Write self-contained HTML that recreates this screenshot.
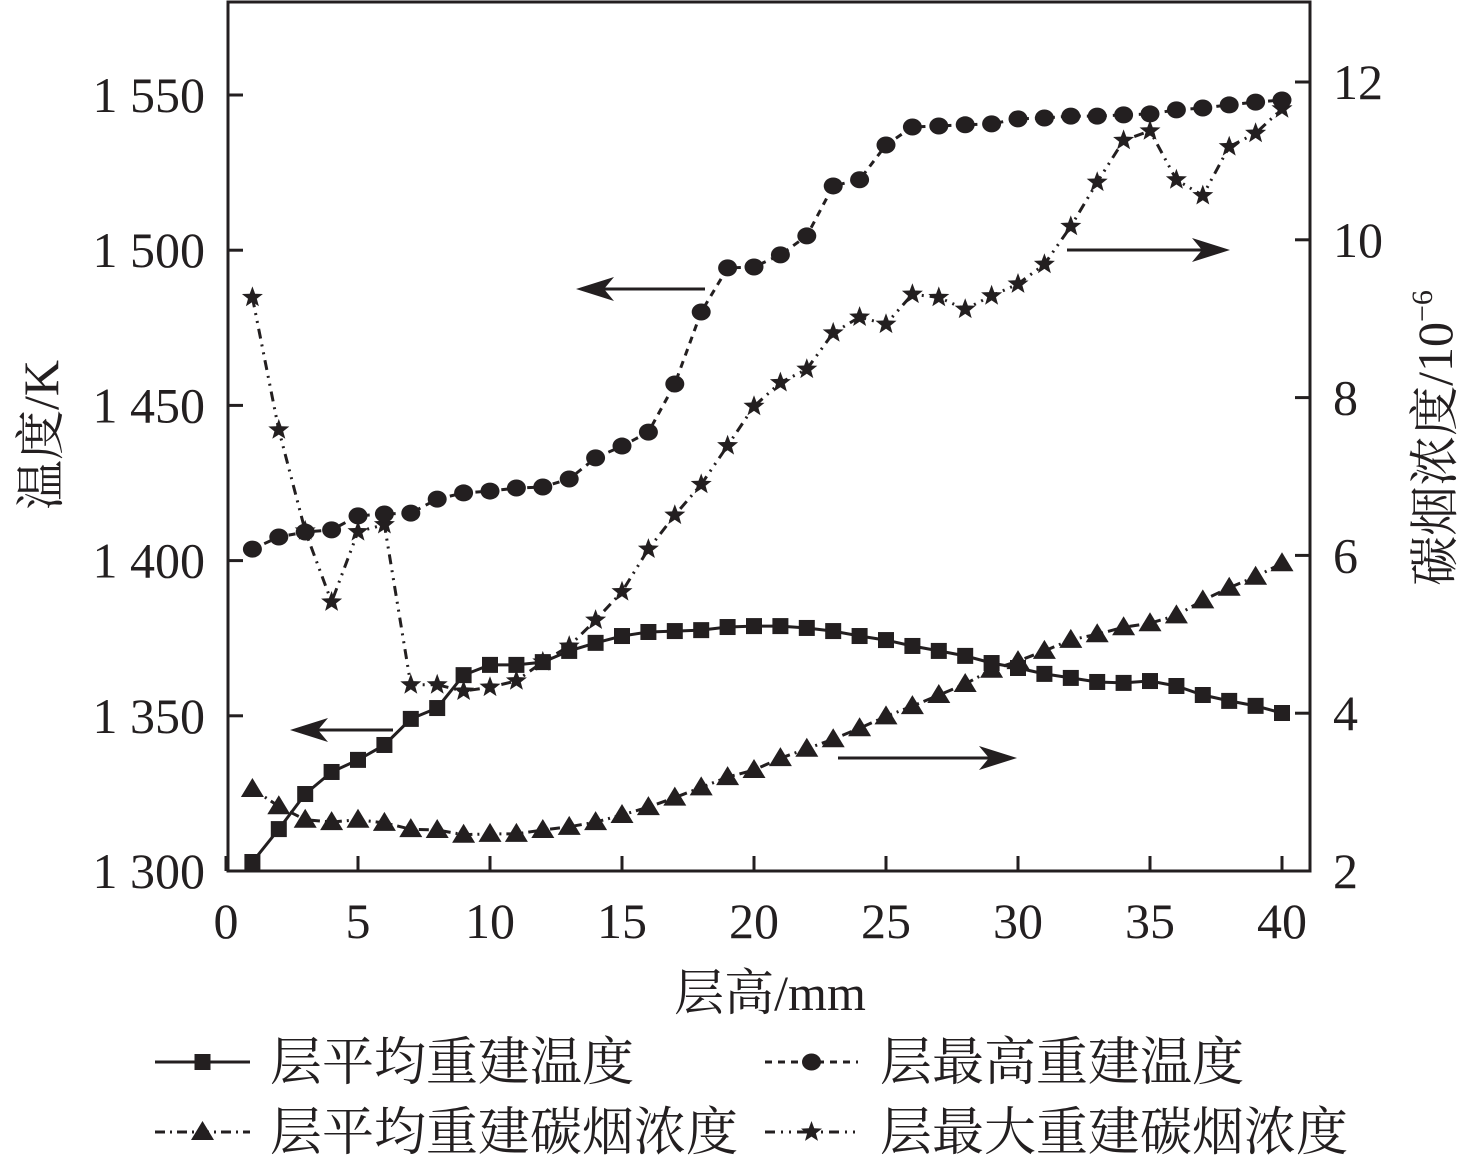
<!DOCTYPE html>
<html><head><meta charset="utf-8"><style>
html,body{margin:0;padding:0;background:#fff}
svg{display:block}
text{font-family:"Liberation Serif","Noto Serif CJK SC",serif;fill:#231f20}
</style></head><body>
<svg id="chart" width="1476" height="1165" viewBox="0 0 1476 1165" xmlns="http://www.w3.org/2000/svg">
<g id="axes"></g>
<g id="series"></g>
<g id="legend"></g>
</svg>
<script>
const layers = [1,2,3,4,5,6,7,8,9,10,11,12,13,14,15,16,17,18,19,20,21,22,23,24,25,26,27,28,29,30,31,32,33,34,35,36,37,38,39,40];
const avgTemp = [1302.9,1313.5,1324.8,1331.9,1335.8,1340.6,1349,1352.5,1363.1,1366.4,1366.4,1367.3,1370.9,1373.5,1375.7,1377,1377.3,1377.6,1378.6,1378.9,1378.9,1378.3,1377.3,1375.7,1374.4,1372.5,1370.9,1369.3,1367,1365.4,1363.5,1362.2,1360.9,1360.6,1361.2,1359.6,1356.7,1354.8,1353.2,1350.9];
const maxTemp = [1403.7,1407.6,1409.2,1409.9,1414.4,1415,1415.3,1419.8,1421.8,1422.4,1423.4,1423.7,1426.3,1433.1,1436.9,1441.4,1456.9,1480.1,1494.3,1494.6,1498.5,1504.6,1520.7,1522.7,1533.9,1539.7,1540,1540.4,1540.7,1542.3,1542.6,1543.2,1543.2,1543.6,1543.9,1545.2,1545.8,1546.8,1547.7,1548.4];
const avgSoot = [3.04,2.82,2.65,2.62,2.65,2.61,2.53,2.52,2.46,2.47,2.47,2.52,2.56,2.62,2.71,2.81,2.93,3.06,3.19,3.28,3.43,3.55,3.67,3.81,3.96,4.09,4.23,4.37,4.55,4.66,4.79,4.93,5.0,5.09,5.14,5.24,5.43,5.59,5.73,5.9];
const maxSoot = [9.27,7.59,6.31,5.41,6.30,6.39,4.36,4.36,4.28,4.33,4.41,4.65,4.85,5.18,5.54,6.08,6.51,6.90,7.39,7.89,8.19,8.36,8.82,9.02,8.93,9.31,9.27,9.12,9.29,9.44,9.69,10.17,10.73,11.26,11.38,10.76,10.56,11.18,11.35,11.66];
const xTicks = [0,5,10,15,20,25,30,35,40];
const leftTicks = [1300,1350,1400,1450,1500,1550];
const leftTickLabels = ["1 300","1 350","1 400","1 450","1 500","1 550"];
const rightTicks = [2,4,6,8,10,12];

const NS="http://www.w3.org/2000/svg";
const L=228,R=1310,T=2,B=871;
const xs=v=>226+v*26.4;
const yl=v=>871-(v-1300)*3.104;
const yr=v=>871-(v-2)*78.9;
function mk(tag,attrs,parent){const e=document.createElementNS(NS,tag);for(const k in attrs)e.setAttribute(k,attrs[k]);parent.appendChild(e);return e;}
const axes=document.getElementById('axes'),ser=document.getElementById('series'),leg=document.getElementById('legend');

let fr=mk('rect',{x:L,y:T,width:R-L,height:B-T,fill:'none',stroke:'#231f20','stroke-width':3},axes);

xTicks.forEach(v=>{
  let t=mk('line',{x1:xs(v),x2:xs(v),y1:B,y2:B-15,stroke:'#231f20','stroke-width':3},axes);
  
  let tx=mk('text',{x:xs(v),y:938,'text-anchor':'middle','font-size':50},axes);tx.textContent=v;
  
});
leftTicks.forEach((v,i)=>{
  let t=mk('line',{x1:L,x2:L+15,y1:yl(v),y2:yl(v),stroke:'#231f20','stroke-width':3},axes);
  
  let tx=mk('text',{x:205,y:yl(v)+17,'text-anchor':'end','font-size':50},axes);tx.textContent=leftTickLabels[i];
  
});
rightTicks.forEach(v=>{
  let t=mk('line',{x1:R,x2:R-15,y1:yr(v),y2:yr(v),stroke:'#231f20','stroke-width':3},axes);
  
  let tx=mk('text',{x:1333,y:yr(v)+17,'text-anchor':'start','font-size':50},axes);tx.textContent=v;
  
});
let xt=mk('text',{x:770,y:1010,'text-anchor':'middle','font-size':50},axes);xt.textContent='层高/mm';

let ylt=mk('text',{x:0,y:0,'text-anchor':'middle','font-size':50,transform:'translate(58,435) rotate(-90)'},axes);ylt.textContent='温度/K';

let yrt=mk('text',{x:0,y:0,'text-anchor':'middle','font-size':50,transform:'translate(1452,438) rotate(-90)'},axes);
yrt.innerHTML='碳烟浓度/10<tspan font-size="30" dy="-20">−6</tspan>';


function arrow(x1,x2,y,name){
  const g=mk('g',{},axes);
  const d=x2>x1?-1:1;
  mk('line',{x1:x1,x2:x2+d*10,y1:y,y2:y,stroke:'#231f20','stroke-width':3},g);
  mk('path',{d:`M${x2},${y} L${x2+d*38},${y-12} L${x2+d*28},${y} L${x2+d*38},${y+12}Z`,fill:'#231f20'},g);
}
arrow(705,576,289,'arrow-left-upper');arrow(393,290,730,'arrow-left-lower');
arrow(838,1017,758,'arrow-right-lower');arrow(1067,1230,250,'arrow-right-upper');

function star(cx,cy,r){let p='';for(let i=0;i<10;i++){const a=-Math.PI/2+i*Math.PI/5;const rr=i%2?r*0.42:r;p+=(i?'L':'M')+(cx+rr*Math.cos(a)).toFixed(1)+','+(cy+rr*Math.sin(a)).toFixed(1);}return p+'Z';}
function marker(type,cx,cy,parent){
  let m;
  if(type==='sq')m=mk('rect',{x:cx-8,y:cy-8,width:16,height:16,fill:'#231f20'},parent);
  else if(type==='ci')m=mk('ellipse',{cx:cx,cy:cy,rx:9.5,ry:8.5,fill:'#231f20'},parent);
  else if(type==='tr')m=mk('path',{d:`M${cx},${cy-11} L${cx+11.5},${cy+8} L${cx-11.5},${cy+8}Z`,fill:'#231f20'},parent);
  else m=mk('path',{d:star(cx,cy,11),fill:'#231f20'},parent);
  return m;
}
function series(vals,yf,type,dash,name){
  const g=mk('g',{},ser);
  const pts=vals.map((v,i)=>xs(layers[i]).toFixed(1)+','+yf(v).toFixed(1)).join(' ');
  const pl=mk('polyline',{points:pts,fill:'none',stroke:'#231f20','stroke-width':3,'stroke-dasharray':dash},g);
  
  vals.forEach((v,i)=>{const m=marker(type,xs(layers[i]),yf(v),g);
    });
}
series(maxSoot,yr,'st','10,6,2,6,2,6','max-soot-series');
series(avgSoot,yr,'tr','10,5,2,5','avg-soot-series');
series(maxTemp,yl,'ci','7,6','max-temp-series');
series(avgTemp,yl,'sq','none','avg-temp-series');

function legEntry(x1,x2,y,type,dash,label,tx,name){
  const g=mk('g',{},leg);
  mk('line',{x1:x1,x2:x2,y1:y,y2:y,stroke:'#231f20','stroke-width':3,'stroke-dasharray':dash},g);
  marker(type,(x1+x2)/2,y,g);
  const t=mk('text',{x:tx,y:y+18,'font-size':52},g);t.textContent=label;
}
legEntry(155,250,1062,'sq','none','层平均重建温度',270,'legend-entry-avg-temp');
legEntry(765,858,1062,'ci','7,6','层最高重建温度',880,'legend-entry-max-temp');
legEntry(155,250,1132,'tr','10,5,2,5','层平均重建碳烟浓度',270,'legend-entry-avg-soot');
legEntry(765,858,1132,'st','10,6,2,6,2,6','层最大重建碳烟浓度',880,'legend-entry-max-soot');
</script>
</body></html>
